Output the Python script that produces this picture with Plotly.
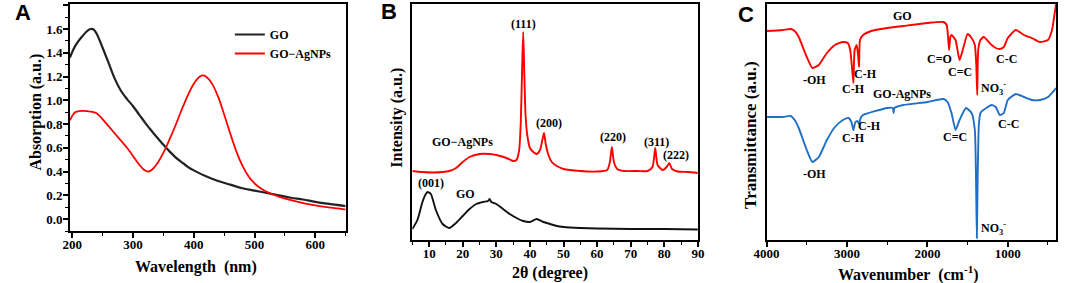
import plotly.graph_objects as go

W, H = 1065, 283

# ---------------- Panel A: UV-vis ----------------
uv_wl_go = [196, 205, 215, 225, 230, 235, 240, 250, 260, 270, 280, 290, 300, 310, 320, 330, 340, 350,
            360, 370, 380, 390, 400, 420, 440, 460, 480, 500, 520, 540, 560, 580, 600, 620, 650]
uv_abs_go = [1.36, 1.46, 1.53, 1.585, 1.60, 1.595, 1.56, 1.44, 1.31, 1.18, 1.08, 1.01, 0.95, 0.88, 0.81,
             0.745, 0.685, 0.625, 0.57, 0.52, 0.48, 0.44, 0.41, 0.36, 0.32, 0.29, 0.26, 0.24, 0.22, 0.20,
             0.18, 0.165, 0.145, 0.13, 0.11]
uv_wl_ag = [196, 200, 205, 215, 230, 240, 250, 260, 270, 280, 290, 300, 310, 318, 325, 332, 340, 350,
            360, 370, 380, 390, 400, 410, 415, 420, 430, 440, 450, 460, 470, 480, 490, 500, 510, 520,
            540, 560, 580, 600, 620, 650]
uv_abs_ag = [0.83, 0.87, 0.90, 0.91, 0.905, 0.89, 0.84, 0.78, 0.72, 0.66, 0.60, 0.53, 0.46, 0.415, 0.40,
             0.42, 0.47, 0.56, 0.67, 0.79, 0.92, 1.04, 1.14, 1.20, 1.21, 1.20, 1.14, 1.03, 0.88, 0.72,
             0.57, 0.45, 0.36, 0.30, 0.26, 0.23, 0.19, 0.16, 0.135, 0.115, 0.10, 0.08]

# ---------------- Panel B: XRD ----------------
xrd_2t_go = [5, 6.5, 8, 9, 9.5, 10.5, 12, 14, 16, 18, 20, 22, 24, 26, 27.5, 28, 28.5, 30, 32, 34, 36, 38,
             40, 42, 44, 46, 48, 50, 55, 60, 70, 80, 90]
xrd_i_go = [11, 20, 38, 46, 48, 46, 30, 16, 12, 17, 24, 31, 36, 38, 39, 41, 38, 36, 31, 26, 22, 19, 18,
            21, 18, 16, 14, 13, 12, 11.5, 11, 11, 10.5]
xrd_2t_ag = [5, 8, 11, 14, 16, 18, 20, 22, 25, 28, 30, 33, 35, 36, 36.8, 37.3, 37.7, 38.0, 38.3, 38.7,
             39.2, 40, 41, 42, 43, 43.7, 44.2, 44.7, 45.5, 46.5, 48, 50, 55, 60, 63, 63.8, 64.4, 65.0,
             66, 68, 72, 75, 76.5, 77.3, 78.0, 79.5, 80.7, 81.5, 82.3, 84, 87, 90]
xrd_i_ag = [69, 68, 67.5, 68, 69, 72, 78, 83, 86, 86, 85, 82, 79, 80, 90, 120, 175, 208, 170, 125, 105,
            92, 88, 86, 90, 100, 107, 96, 85, 78, 74, 71, 69, 68.5, 70, 78, 93, 78, 71, 69, 69, 69, 73,
            92, 75, 70, 73, 77, 71, 68.5, 68, 67]

# ---------------- Panel C: FTIR ----------------
ir_wn_go = [4000, 3800, 3700, 3650, 3600, 3500, 3430, 3350, 3250, 3150, 3050, 2990, 2960, 2935, 2920,
            2905, 2880, 2862, 2850, 2838, 2800, 2700, 2500, 2300, 2000, 1800, 1760, 1745, 1730, 1715,
            1700, 1650, 1600, 1550, 1500, 1450, 1410, 1392, 1380, 1368, 1340, 1300, 1200, 1150, 1100,
            1050, 1000, 900, 800, 700, 600, 500, 450, 420, 400]
ir_t_go = [209, 210, 211, 209, 203, 183, 172, 175, 187, 195, 198, 197, 190, 170, 157, 190, 195, 185,
           173, 200, 205, 209, 212, 214, 217, 218, 215, 205, 190, 203, 205, 200, 180, 193, 206, 202,
           195, 175, 145, 190, 200, 203, 195, 192, 191, 193, 202, 210, 205, 202, 198, 200, 210, 225, 236]
ir_wn_ag = [4000, 3800, 3700, 3650, 3600, 3500, 3430, 3350, 3250, 3150, 3050, 2980, 2945, 2920, 2895,
            2870, 2850, 2830, 2800, 2500, 2430, 2420, 2410, 2300, 2000, 1800, 1750, 1700, 1650, 1600,
            1520, 1450, 1410, 1395, 1385, 1375, 1360, 1340, 1250, 1200, 1150, 1100, 1050, 1000, 900,
            800, 700, 600, 500, 420, 400]
ir_t_ag = [123, 123, 124, 120, 112, 90, 78, 83, 100, 113, 120, 122, 118, 110, 118, 119, 116, 122, 125,
           132, 132, 127, 132, 135, 138, 141, 138, 127, 110, 120, 132, 127, 110, 60, 2, 60, 115, 127, 133,
           135, 133, 125, 127, 140, 146, 143, 140, 140, 143, 150, 152]

RED = "#ff0000"
BLUE = "#1f6fc8"
BLACK = "#111111"

fig = go.Figure()
fig.add_trace(go.Scatter(x=uv_wl_go, y=uv_abs_go, mode="lines", name="GO", line=dict(color="#222222", width=2.2, shape="spline"), xaxis="x", yaxis="y"))
fig.add_trace(go.Scatter(x=uv_wl_ag, y=uv_abs_ag, mode="lines", name="GO−AgNPs", line=dict(color=RED, width=1.8, shape="spline"), xaxis="x", yaxis="y"))
fig.add_trace(go.Scatter(x=xrd_2t_ag, y=xrd_i_ag, mode="lines", showlegend=False, line=dict(color=RED, width=1.9, shape="spline", smoothing=0.6), xaxis="x2", yaxis="y2"))
fig.add_trace(go.Scatter(x=xrd_2t_go, y=xrd_i_go, mode="lines", showlegend=False, line=dict(color=BLACK, width=1.9, shape="spline", smoothing=0.6), xaxis="x2", yaxis="y2"))
fig.add_trace(go.Scatter(x=ir_wn_go, y=ir_t_go, mode="lines", showlegend=False, line=dict(color=RED, width=1.9, shape="spline", smoothing=0.5), xaxis="x3", yaxis="y3"))
fig.add_trace(go.Scatter(x=ir_wn_ag, y=ir_t_ag, mode="lines", showlegend=False, line=dict(color=BLUE, width=1.9, shape="spline", smoothing=0.5), xaxis="x3", yaxis="y3"))

SERIF = "Liberation Serif"
tickfont = dict(family=SERIF, size=13, color="black", weight="bold")

def px(xp):
    return xp / W

def py(yp):
    return (H - yp) / H

def xax(domain, rng, dtick, minor_dtick, tick0=None, anchor="y"):
    d = dict(domain=domain, range=rng, showgrid=False, zeroline=False, showline=True, linecolor="black",
             linewidth=1.5, mirror=True, ticks="outside", ticklen=5, tickwidth=1.5, tickcolor="black",
             dtick=dtick, tickfont=tickfont, anchor=anchor, ticklabelstandoff=-4,
             minor=dict(dtick=minor_dtick, ticks="outside", ticklen=3, tickwidth=1.2, tickcolor="black"))
    if tick0 is not None:
        d["tick0"] = tick0
    return d

layout = dict(
    width=W, height=H, margin=dict(l=0, r=0, t=0, b=0),
    paper_bgcolor="white", plot_bgcolor="white",
    showlegend=True,
    legend=dict(x=px(221), y=py(20), xanchor="left", yanchor="top", bgcolor="rgba(0,0,0,0)",
                font=dict(family=SERIF, size=12, color="black", weight="bold"), tracegroupgap=0, itemwidth=30),
    xaxis=xax([px(58), px(339)], [196, 650], 100, 50, tick0=0, anchor="y"),
    yaxis=dict(domain=[py(231), py(4)], range=[-0.1, 1.81], showgrid=False, zeroline=False, showline=True,
               linecolor="black", linewidth=1.5, mirror=True, ticks="outside", ticklen=5, tickwidth=1.5,
               tickcolor="black", dtick=0.2, tick0=0, tickformat=".1f", tickfont=tickfont, anchor="x",
               ticklabelstandoff=-2,
               minor=dict(dtick=0.1, ticks="outside", ticklen=3, tickwidth=1.2, tickcolor="black")),
    xaxis2=xax([px(407), px(698)], [5, 90], 10, 5, tick0=0, anchor="y2"),
    yaxis2=dict(domain=[py(240), py(4)], range=[0, 236], showgrid=False, zeroline=False, showline=True,
                linecolor="black", linewidth=1.5, mirror=True, ticks="", showticklabels=False, anchor="x2"),
    xaxis3=xax([px(768), px(1063)], [4000, 400], 1000, 500, tick0=0, anchor="y3"),
    yaxis3=dict(domain=[py(240), py(4)], range=[0, 236], showgrid=False, zeroline=False, showline=True,
                linecolor="black", linewidth=1.5, mirror=True, ticks="", showticklabels=False, anchor="x3"),
)
fig.update_layout(**layout)

ann = []
def A(text, x, y, xref, yref, size=12, angle=0, family=SERIF, bold=True, xanchor="center", yanchor="middle"):
    t = f"<b>{text}</b>" if bold else text
    ann.append(dict(text=t, x=x, y=y, xref=xref, yref=yref, showarrow=False, textangle=angle,
                    font=dict(family=family, size=size, color="black"), xanchor=xanchor, yanchor=yanchor))

# Panel letters
A("A", px(10), py(13), "paper", "paper", size=22, family="Liberation Sans")
A("B", px(383), py(11), "paper", "paper", size=22, family="Liberation Sans")
A("C", px(747), py(14), "paper", "paper", size=22, family="Liberation Sans")

# Axis titles
A("Absorption (a.u.)", px(23), py(112), "paper", "paper", size=16, angle=-90)
A("Wavelength  (nm)", px(186), py(267), "paper", "paper", size=16)
A("Intensity (a.u.)", px(391), py(118), "paper", "paper", size=16, angle=-90)
A("2θ (degree)", px(547), py(273), "paper", "paper", size=16)
A("Transmittance (a.u.)", px(752), py(135), "paper", "paper", size=17, angle=-90)
A("Wavenumber  (cm<sup>-1</sup>)", px(913), py(273), "paper", "paper", size=16)

# Panel B labels
for t, x, y in [("(111)", 38, 216), ("(200)", 45.6, 117), ("(220)", 64.6, 103), ("(311)", 77.8, 98),
                ("(222)", 83.6, 85), ("GO−AgNPs", 19.8, 98), ("(001)", 10.5, 57), ("GO", 20.8, 46)]:
    A(t, x, y, "x2", "y2")

# Panel C labels
for t, x, y in [("GO", 2311, 224), ("-OH", 3404, 160), ("C-H", 2914, 151), ("C-H", 2764, 166),
                ("C=O", 1846, 181), ("C=C", 1589, 168), ("C-C", 1017, 181),
                ("GO-AgNPs", 2311, 146), ("C-H", 2923, 102), ("C-H", 2715, 114), ("C=C", 1662, 103),
                ("C-C", 990, 116), ("-OH", 3404, 66)]:
    A(t, x, y, "x3", "y3")
A("NO<sub>3</sub><sup>-</sup>", 1360, 152, "x3", "y3", xanchor="left")
A("NO<sub>3</sub><sup>-</sup>", 1360, 12, "x3", "y3", xanchor="left")

fig.update_layout(annotations=ann)
fig.write_html("out.html", config={"displayModeBar": False},
               post_script="document.body.style.margin='0';document.body.style.overflow='hidden';")
